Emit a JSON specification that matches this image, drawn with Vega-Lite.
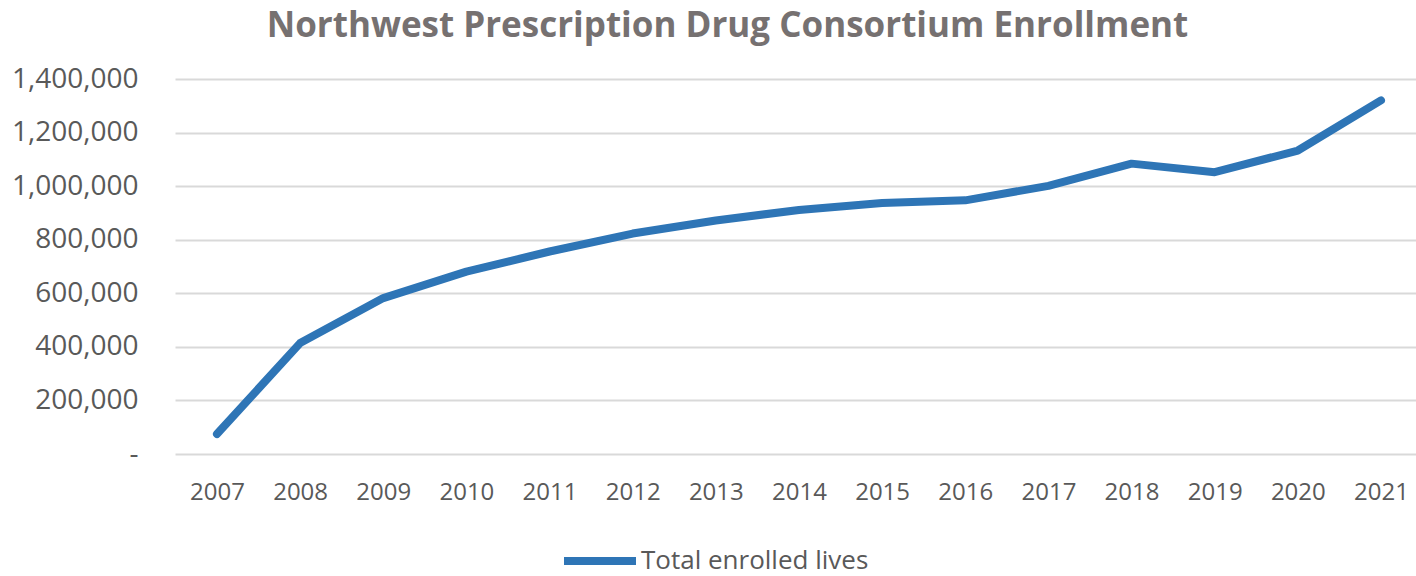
{
  "$schema": "https://vega.github.io/schema/vega-lite/v6.json",
  "width": 1241,
  "height": 375,
  "autosize": "none",
  "padding": {"left": 175, "top": 79, "right": 0, "bottom": 122},
  "background": "white",
  "title": {
    "text": "Northwest Prescription Drug Consortium Enrollment",
    "font": "Open Sans",
    "fontSize": 35,
    "fontWeight": "bold",
    "color": "#767171",
    "anchor": "middle",
    "dx": -68,
    "offset": 21
  },
  "data": {
    "values": [
      {"year": "2007", "lives": 74700},
      {"year": "2008", "lives": 414000},
      {"year": "2009", "lives": 582000},
      {"year": "2010", "lives": 681000},
      {"year": "2011", "lives": 756000},
      {"year": "2012", "lives": 823000},
      {"year": "2013", "lives": 872000},
      {"year": "2014", "lives": 911000},
      {"year": "2015", "lives": 937000},
      {"year": "2016", "lives": 947000},
      {"year": "2017", "lives": 1001000},
      {"year": "2018", "lives": 1084000},
      {"year": "2019", "lives": 1052000},
      {"year": "2020", "lives": 1133000},
      {"year": "2021", "lives": 1320000}
    ]
  },
  "mark": {"type": "line", "strokeWidth": 8, "strokeCap": "round", "strokeJoin": "round"},
  "encoding": {
    "x": {
      "field": "year",
      "type": "ordinal",
      "scale": {"type": "point", "padding": 0.463, "align": 0.545},
      "axis": {
        "title": null,
        "domain": false,
        "ticks": false,
        "grid": false,
        "labelAngle": 0,
        "labelFont": "Open Sans",
        "labelFontSize": 24,
        "labelColor": "#595959",
        "labelPadding": 26
      }
    },
    "y": {
      "field": "lives",
      "type": "quantitative",
      "scale": {"domain": [0, 1400000], "nice": false},
      "axis": {
        "title": null,
        "values": [0, 200000, 400000, 600000, 800000, 1000000, 1200000, 1400000],
        "labelExpr": "datum.value == 0 ? '-\u00a0\u00a0\u00a0\u00a0' : format(datum.value, ',')",
        "domain": false,
        "ticks": false,
        "grid": true,
        "gridColor": "#D9D9D9",
        "gridWidth": 2,
        "labelFont": "Open Sans",
        "labelFontSize": 28,
        "labelColor": "#595959",
        "labelPadding": 37
      }
    },
    "color": {
      "datum": "Total enrolled lives",
      "type": "nominal",
      "scale": {"range": ["#2E75B6"]},
      "legend": {
        "title": null,
        "orient": "none",
        "legendX": 385,
        "legendY": 442,
        "symbolType": "stroke",
        "symbolSize": 5184,
        "symbolStrokeWidth": 8,
        "labelFont": "Open Sans",
        "labelFontSize": 26,
        "labelColor": "#595959",
        "labelOffset": 1,
        "labelLimit": 500,
        "padding": 0
      }
    }
  },
  "config": {"view": {"stroke": null}}
}
